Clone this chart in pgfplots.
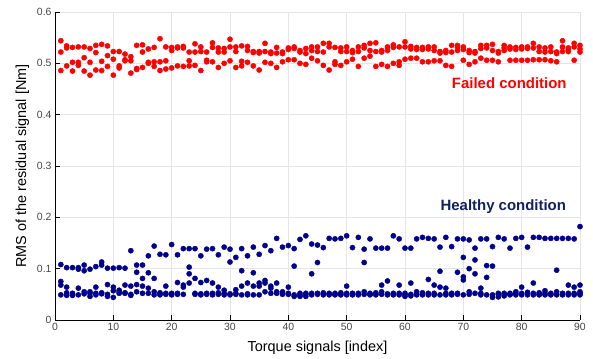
\documentclass[border=0pt]{standalone}
\usepackage{pgfplots}
\pgfplotsset{compat=1.18}
\usepackage{fontspec}
\setmainfont{Liberation Sans}
\definecolor{failred}{RGB}{255,0,0}
\definecolor{healthblue}{RGB}{0,0,140}
\definecolor{healthtext}{RGB}{16,32,96}
\definecolor{tickgray}{RGB}{70,70,70}
\begin{document}
\begin{tikzpicture}
\useasboundingbox (-55bp,-39bp) rectangle (538bp,320bp);
\begin{axis}[
 scale only axis, width=525bp, height=308bp,
 xmin=0, xmax=90, ymin=0, ymax=0.6,
 xtick={0,10,20,30,40,50,60,70,80,90},
 ytick={0,0.1,0.2,0.3,0.4,0.5,0.6},
 axis x line*=bottom, axis y line*=left,
 grid=major, grid style={black!10, line width=0.5bp},
 tick style={black, line width=0.6bp}, major tick length=5bp,
 axis line style={black, line width=0.8bp},
 tick label style={font=\fontsize{10.5}{12}\selectfont, text=tickgray},
 /pgf/number format/assume math mode=true,
 label style={font=\fontsize{14.5}{17}\selectfont},
 xlabel={Torque signals [index]},
 xlabel style={yshift=-3bp},
 ylabel={RMS of the residual signal [Nm]},
 ylabel style={yshift=1bp},
 clip=false,
]
\addplot[only marks, mark=*, mark size=2.6bp, color=healthblue] coordinates {
(1,0.108)(1,0.075)(1,0.068)(1,0.049)
(2,0.102)(2,0.064)(2,0.053)(2,0.048)
(3,0.102)(3,0.052)(3,0.048)(3,0.050)
(4,0.102)(4,0.099)(4,0.062)(4,0.049)
(5,0.107)(5,0.096)(5,0.055)(5,0.051)
(6,0.099)(6,0.055)(6,0.046)(6,0.052)
(7,0.104)(7,0.064)(7,0.049)(7,0.052)
(8,0.113)(8,0.107)(8,0.053)(8,0.051)
(9,0.101)(9,0.069)(9,0.050)(9,0.046)
(10,0.101)(10,0.064)(10,0.057)(10,0.044)
(11,0.102)(11,0.058)(11,0.052)(11,0.055)
(12,0.101)(12,0.068)(12,0.052)(12,0.053)
(13,0.135)(13,0.066)(13,0.048)(13,0.050)
(14,0.107)(14,0.093)(14,0.069)(14,0.055)
(15,0.107)(15,0.081)(15,0.066)(15,0.052)
(16,0.125)(16,0.092)(16,0.062)(16,0.052)
(17,0.144)(17,0.081)(17,0.055)(17,0.049)
(18,0.128)(18,0.053)(18,0.049)(18,0.051)
(19,0.127)(19,0.066)(19,0.050)(19,0.052)
(20,0.147)(20,0.050)(20,0.052)(20,0.049)
(21,0.127)(21,0.073)(21,0.050)(21,0.052)
(22,0.139)(22,0.068)(22,0.064)(22,0.050)
(23,0.139)(23,0.103)(23,0.090)(23,0.072)
(24,0.139)(24,0.081)(24,0.052)(24,0.050)
(25,0.125)(25,0.073)(25,0.051)(25,0.049)
(26,0.138)(26,0.077)(26,0.052)(26,0.050)
(27,0.139)(27,0.072)(27,0.049)(27,0.052)
(28,0.127)(28,0.064)(28,0.050)(28,0.053)
(29,0.142)(29,0.058)(29,0.049)(29,0.052)
(30,0.138)(30,0.113)(30,0.049)(30,0.051)
(31,0.122)(31,0.059)(31,0.052)(31,0.050)
(32,0.139)(32,0.096)(32,0.066)(32,0.049)
(33,0.125)(33,0.072)(33,0.051)(33,0.049)
(34,0.142)(34,0.092)(34,0.066)(34,0.049)
(35,0.128)(35,0.072)(35,0.066)(35,0.049)
(36,0.145)(36,0.077)(36,0.072)(36,0.055)
(37,0.135)(37,0.066)(37,0.062)(37,0.052)
(38,0.159)(38,0.072)(38,0.055)(38,0.052)
(39,0.142)(39,0.055)(39,0.050)(39,0.052)
(40,0.145)(40,0.064)(40,0.050)(40,0.052)
(41,0.139)(41,0.105)(41,0.046)(41,0.049)
(42,0.157)(42,0.046)(42,0.049)(42,0.052)
(43,0.164)(43,0.046)(43,0.050)(43,0.052)
(44,0.148)(44,0.090)(44,0.049)(44,0.052)
(45,0.146)(45,0.112)(45,0.052)(45,0.050)
(46,0.141)(46,0.051)(46,0.049)(46,0.053)
(47,0.159)(47,0.052)(47,0.049)(47,0.051)
(48,0.158)(48,0.049)(48,0.052)(48,0.050)
(49,0.159)(49,0.053)(49,0.050)(49,0.049)
(50,0.164)(50,0.066)(50,0.049)(50,0.052)
(51,0.141)(51,0.049)(51,0.052)(51,0.050)
(52,0.161)(52,0.049)(52,0.052)(52,0.050)
(53,0.138)(53,0.112)(53,0.055)(53,0.050)
(54,0.158)(54,0.052)(54,0.050)(54,0.049)
(55,0.140)(55,0.051)(55,0.053)(55,0.049)
(56,0.140)(56,0.068)(56,0.055)(56,0.050)
(57,0.140)(57,0.076)(57,0.051)(57,0.049)
(58,0.164)(58,0.049)(58,0.052)(58,0.050)
(59,0.158)(59,0.068)(59,0.049)(59,0.052)
(60,0.140)(60,0.049)(60,0.052)(60,0.046)
(61,0.140)(61,0.072)(61,0.047)(61,0.050)
(62,0.158)(62,0.055)(62,0.050)(62,0.049)
(63,0.161)(63,0.051)(63,0.049)(63,0.053)
(64,0.159)(64,0.079)(64,0.049)(64,0.052)
(65,0.158)(65,0.068)(65,0.049)(65,0.052)
(66,0.142)(66,0.095)(66,0.064)(66,0.049)
(67,0.161)(67,0.062)(67,0.049)(67,0.052)
(68,0.143)(68,0.049)(68,0.052)(68,0.050)
(69,0.158)(69,0.093)(69,0.052)(69,0.050)
(70,0.158)(70,0.122)(70,0.084)(70,0.078)(70,0.049)
(71,0.156)(71,0.100)(71,0.055)(71,0.050)
(72,0.140)(72,0.117)(72,0.090)(72,0.052)
(73,0.158)(73,0.062)(73,0.049)(73,0.052)
(74,0.158)(74,0.106)(74,0.083)(74,0.049)
(75,0.143)(75,0.105)(75,0.044)(75,0.049)
(76,0.161)(76,0.045)(76,0.050)(76,0.052)
(77,0.158)(77,0.047)(77,0.050)(77,0.052)
(78,0.140)(78,0.049)(78,0.052)(78,0.050)
(79,0.159)(79,0.052)(79,0.049)(79,0.055)
(80,0.161)(80,0.064)(80,0.049)(80,0.052)
(81,0.142)(81,0.049)(81,0.052)(81,0.054)
(82,0.161)(82,0.072)(82,0.052)(82,0.049)
(83,0.161)(83,0.053)(83,0.049)(83,0.050)
(84,0.159)(84,0.057)(84,0.049)(84,0.052)
(85,0.159)(85,0.052)(85,0.049)(85,0.050)
(86,0.159)(86,0.097)(86,0.055)(86,0.049)
(87,0.159)(87,0.052)(87,0.049)(87,0.050)
(88,0.159)(88,0.068)(88,0.052)(88,0.049)
(89,0.158)(89,0.064)(89,0.049)(89,0.052)
(90,0.182)(90,0.068)(90,0.055)(90,0.052)(90,0.049)
};
\addplot[only marks, mark=*, mark size=2.6bp, color=failred] coordinates {
(1,0.544)(1,0.522)(1,0.486)
(2,0.534)(2,0.530)(2,0.495)
(3,0.531)(3,0.502)(3,0.485)
(4,0.532)(4,0.502)(4,0.496)
(5,0.532)(5,0.511)(5,0.485)
(6,0.529)(6,0.502)(6,0.477)
(7,0.535)(7,0.521)(7,0.487)
(8,0.537)(8,0.504)(8,0.486)
(9,0.534)(9,0.515)(9,0.494)
(10,0.523)(10,0.508)(10,0.477)
(11,0.523)(11,0.495)(11,0.491)
(12,0.518)(12,0.505)(12,0.507)
(13,0.513)(13,0.505)(13,0.481)
(14,0.535)(14,0.490)(14,0.488)
(15,0.536)(15,0.522)(15,0.492)
(16,0.528)(16,0.502)(16,0.500)
(17,0.531)(17,0.503)(17,0.494)
(18,0.548)(18,0.503)(18,0.486)
(19,0.532)(19,0.505)(19,0.489)
(20,0.531)(20,0.525)(20,0.491)
(21,0.532)(21,0.530)(21,0.495)
(22,0.533)(22,0.530)(22,0.494)
(23,0.522)(23,0.505)(23,0.495)
(24,0.538)(24,0.522)(24,0.496)
(25,0.532)(25,0.523)(25,0.486)
(26,0.522)(26,0.503)(26,0.506)
(27,0.540)(27,0.531)(27,0.503)
(28,0.530)(28,0.522)(28,0.492)
(29,0.529)(29,0.522)(29,0.500)
(30,0.547)(30,0.532)(30,0.505)
(31,0.532)(31,0.523)(31,0.492)
(32,0.534)(32,0.504)(32,0.495)
(33,0.533)(33,0.525)(33,0.502)
(34,0.523)(34,0.495)(34,0.521)
(35,0.523)(35,0.487)(35,0.520)
(36,0.539)(36,0.523)(36,0.502)
(37,0.522)(37,0.500)(37,0.519)
(38,0.531)(38,0.520)(38,0.492)
(39,0.522)(39,0.519)(39,0.503)
(40,0.530)(40,0.527)(40,0.507)
(41,0.532)(41,0.507)(41,0.529)
(42,0.525)(42,0.500)(42,0.522)
(43,0.529)(43,0.519)(43,0.498)
(44,0.532)(44,0.525)(44,0.510)
(45,0.532)(45,0.523)(45,0.505)
(46,0.539)(46,0.522)(46,0.496)
(47,0.539)(47,0.532)(47,0.487)
(48,0.531)(48,0.503)(48,0.498)
(49,0.530)(49,0.523)(49,0.496)
(50,0.532)(50,0.523)(50,0.503)
(51,0.525)(51,0.508)(51,0.521)
(52,0.532)(52,0.523)(52,0.494)
(53,0.535)(53,0.510)(53,0.530)
(54,0.539)(54,0.525)(54,0.514)
(55,0.540)(55,0.523)(55,0.494)
(56,0.525)(56,0.498)(56,0.522)
(57,0.532)(57,0.525)(57,0.494)
(58,0.536)(58,0.500)(58,0.531)
(59,0.532)(59,0.503)(59,0.496)
(60,0.542)(60,0.532)(60,0.508)
(61,0.533)(61,0.510)(61,0.528)
(62,0.531)(62,0.510)(62,0.527)
(63,0.531)(63,0.503)(63,0.527)
(64,0.532)(64,0.503)(64,0.528)
(65,0.532)(65,0.525)(65,0.505)
(66,0.523)(66,0.505)(66,0.520)
(67,0.525)(67,0.496)(67,0.521)
(68,0.535)(68,0.522)(68,0.494)
(69,0.535)(69,0.525)(69,0.531)
(70,0.532)(70,0.506)(70,0.527)
(71,0.525)(71,0.498)(71,0.521)
(72,0.523)(72,0.503)(72,0.520)
(73,0.535)(73,0.510)(73,0.529)
(74,0.535)(74,0.506)(74,0.530)
(75,0.537)(75,0.525)(75,0.506)
(76,0.523)(76,0.503)(76,0.520)
(77,0.535)(77,0.525)(77,0.530)
(78,0.532)(78,0.506)(78,0.528)
(79,0.531)(79,0.506)(79,0.527)
(80,0.532)(80,0.506)(80,0.528)
(81,0.532)(81,0.506)(81,0.529)
(82,0.539)(82,0.530)(82,0.507)
(83,0.532)(83,0.523)(83,0.507)
(84,0.530)(84,0.522)(84,0.507)
(85,0.532)(85,0.523)(85,0.505)
(86,0.522)(86,0.503)(86,0.519)
(87,0.544)(87,0.532)(87,0.523)
(88,0.530)(88,0.523)(88,0.526)
(89,0.539)(89,0.532)(89,0.506)
(90,0.535)(90,0.522)(90,0.528)
};
\node[anchor=east, font=\bfseries\fontsize{15}{17}\selectfont, text=failred] at (axis cs:88.3,0.462) {Failed condition};
\node[anchor=east, font=\bfseries\fontsize{15}{17}\selectfont, text=healthtext] at (axis cs:88.2,0.220) {Healthy condition};
\end{axis}
\end{tikzpicture}
\end{document}
